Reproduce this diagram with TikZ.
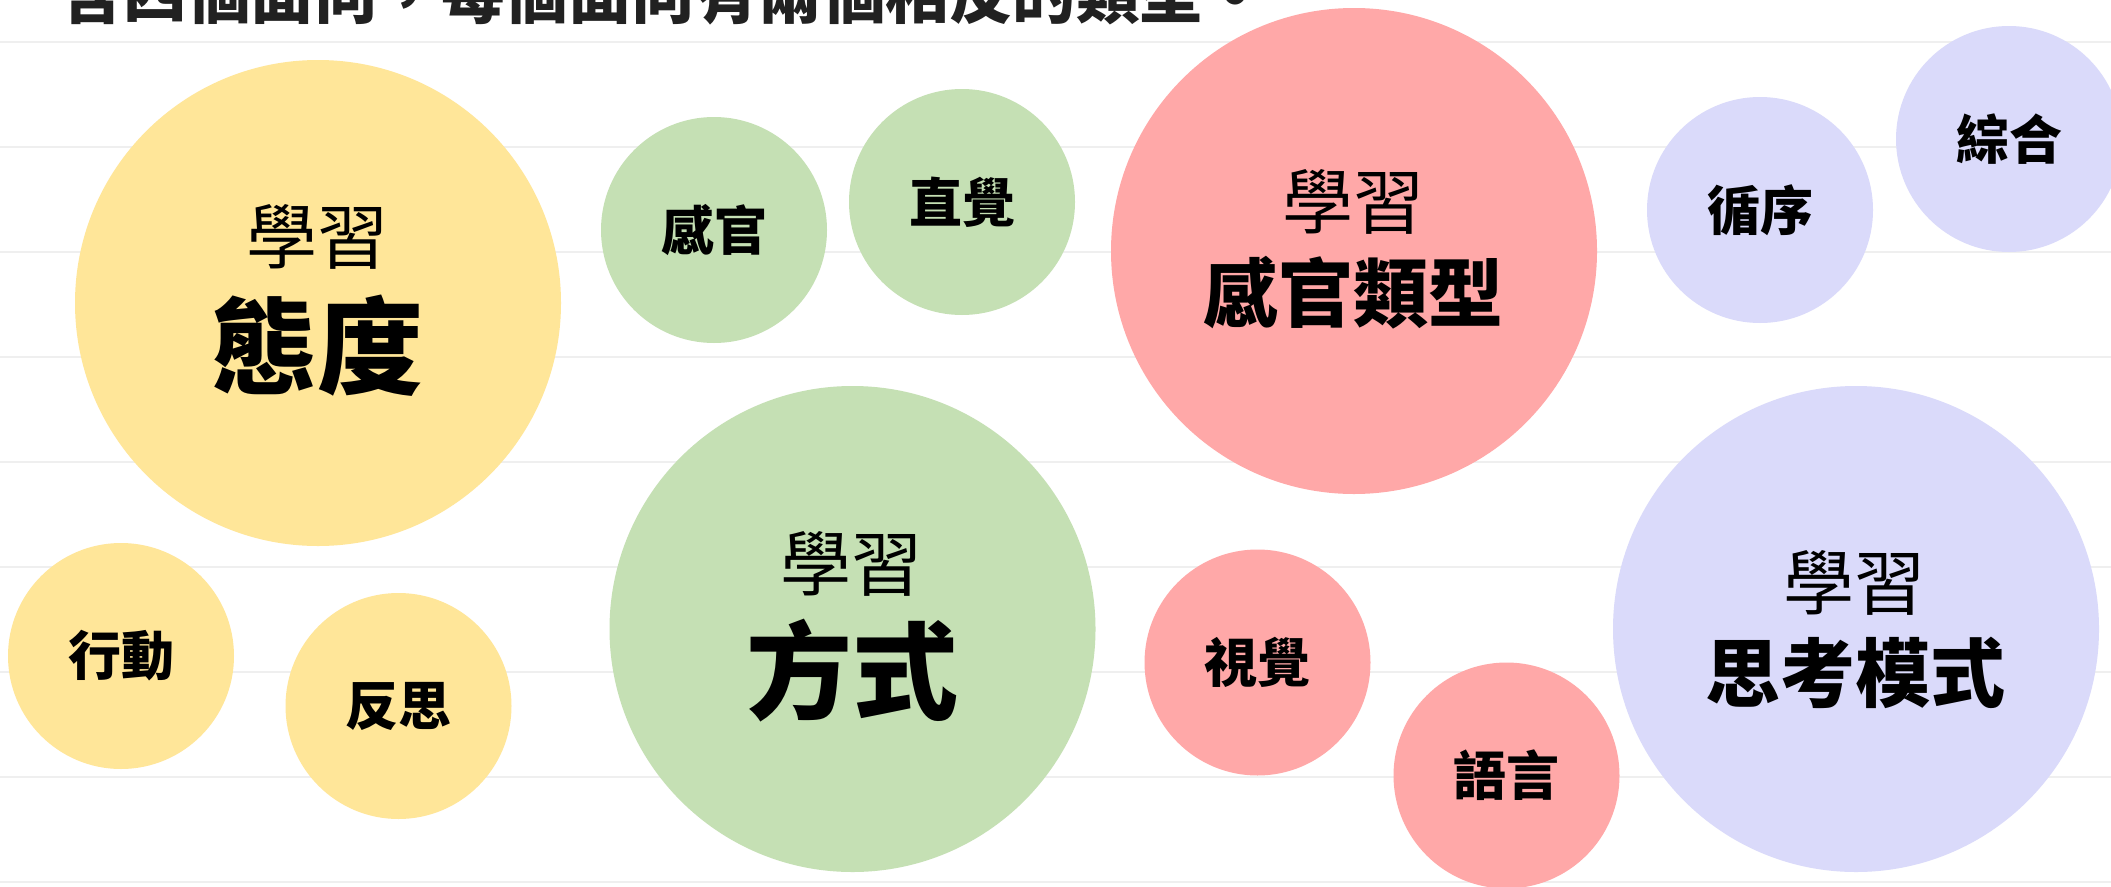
\documentclass[tikz,border=0pt]{standalone}
\usepackage{fontspec}
\setmainfont{Noto Sans CJK TC}
\definecolor{cyel}{HTML}{FFE699}
\definecolor{cgrn}{HTML}{C5E0B4}
\definecolor{cred}{HTML}{FFA8A8}
\definecolor{cpur}{HTML}{DADAFA}
\definecolor{cline}{HTML}{EFEFEF}
\definecolor{ctitle}{HTML}{212121}
\tikzset{
  bub/.style={circle, inner sep=0pt, minimum size=#1, draw=none},
  bigbub/.style={bub=486pt},
  smallbub/.style={bub=226pt, font=\fontsize{53}{53}\selectfont\bfseries},
  lbl/.style={inner sep=0pt, anchor=center},
  prelbl/.style={lbl, font=\fontsize{71}{71}\selectfont},
  mainA/.style={lbl, font=\fontsize{106}{106}\selectfont\bfseries},
  mainB/.style={lbl, font=\fontsize{75}{75}\selectfont\bfseries},
  rulerline/.style={draw=cline, line width=2pt}
}
\begin{document}
\begin{tikzpicture}[x=1pt,y=-1pt]
\useasboundingbox (0,0) rectangle (2111,886);
\clip (0,0) rectangle (2111,886);
\fill[white] (0,0) rectangle (2111,886);
% ruled lines
\foreach \k in {0,...,8}
  \draw[rulerline] (0,{42+105*\k}) -- (2111,{42+105*\k});
% title
\node[inner sep=0pt, anchor=base west, text=ctitle,
      font=\fontsize{63.5}{63.5}\selectfont\bfseries] (title) at (60,18.5)
      {含四個面向，每個面向有兩個相反的類型。};
% yellow
\node[bigbub, fill=cyel] (att) at (318,303) {};
\node[prelbl] (attP) at (317,236.5) {學習};
\node[mainA] (attM) at (317,346) {態度};
\node[smallbub, fill=cyel] (act) at (121,656) {行動};
\node[smallbub, fill=cyel] (refl) at (398.5,706) {反思};
% green
\node[smallbub, fill=cgrn] (sens) at (714,230) {感官};
\node[smallbub, fill=cgrn] (intu) at (962,202) {直覺};
\node[bigbub, fill=cgrn] (way) at (852.5,629) {};
\node[prelbl] (wayP) at (851,564) {學習};
\node[mainA] (wayM) at (852.5,670.5) {方式};
% red
\node[bigbub, fill=cred] (stype) at (1354,251) {};
\node[prelbl] (stypeP) at (1353,201.5) {學習};
\node[mainB] (stypeM) at (1353,292.5) {感官類型};
\node[smallbub, fill=cred] (vis) at (1257.5,662.5) {視覺};
\node[smallbub, fill=cred] (verb) at (1506.5,775.5) {語言};
% purple
\node[smallbub, fill=cpur] (seq) at (1760,210) {循序};
\node[smallbub, fill=cpur] (glob) at (2009,139) {綜合};
\node[bigbub, fill=cpur] (think) at (1856,629) {};
\node[prelbl] (thinkP) at (1854,583) {學習};
\node[mainB] (thinkM) at (1855.5,672.5) {思考模式};
\end{tikzpicture}
\end{document}
